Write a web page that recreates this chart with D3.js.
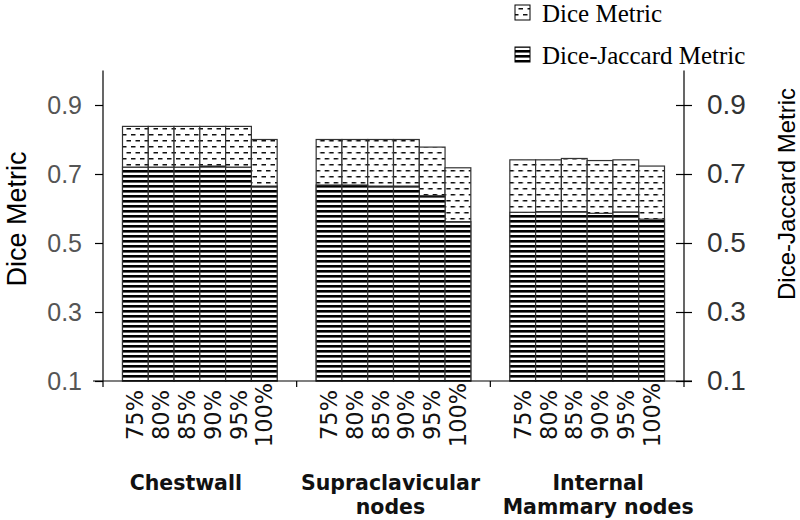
<!DOCTYPE html>
<html><head><meta charset="utf-8">
<script src="https://cdn.jsdelivr.net/npm/d3@7"></script>
<style>body{margin:0;background:#fff}svg{display:block}</style>
</head><body><svg id="c" width="800" height="520"></svg>
<script>
const groups = ["Chestwall", "Supraclavicular nodes", "Internal Mammary nodes"];
const groupLines = [["Chestwall"], ["Supraclavicular", "nodes"], ["Internal", "Mammary nodes"]];
const thresholds = ["75%", "80%", "85%", "90%", "95%", "100%"];
const diceValues = [
  [0.838, 0.838, 0.838, 0.838, 0.838, 0.80],
  [0.80, 0.80, 0.80, 0.80, 0.778, 0.718],
  [0.741, 0.741, 0.745, 0.739, 0.741, 0.723]
];
const jaccardValues = [
  [0.72, 0.72, 0.72, 0.723, 0.72, 0.665],
  [0.668, 0.668, 0.665, 0.665, 0.637, 0.562],
  [0.589, 0.591, 0.591, 0.586, 0.59, 0.569]
];
const yTicks = [0.1, 0.3, 0.5, 0.7, 0.9];
const seriesNames = ["Dice Metric", "Dice-Jaccard Metric"];

const svg = d3.select("#c");
const defs = svg.append("defs");
const pd = defs.append("pattern").attr("id", "dash").attr("patternUnits", "userSpaceOnUse")
  .attr("width", 9).attr("height", 12);
pd.append("rect").attr("width", 9).attr("height", 12).attr("fill", "#fff");
pd.append("rect").attr("x", 1).attr("y", 2).attr("width", 4.5).attr("height", 1.5).attr("fill", "#111");
pd.append("rect").attr("x", 5.5).attr("y", 8).attr("width", 3.5).attr("height", 1.5).attr("fill", "#111");
pd.append("rect").attr("x", 0).attr("y", 8).attr("width", 1).attr("height", 1.5).attr("fill", "#111");
const ps = defs.append("pattern").attr("id", "stripe").attr("patternUnits", "userSpaceOnUse")
  .attr("width", 4).attr("height", 5);
ps.append("rect").attr("width", 4).attr("height", 5).attr("fill", "#fff");
ps.append("rect").attr("y", 0).attr("width", 4).attr("height", 2.6).attr("fill", "#000");

const x0 = d3.scaleBand().domain(groups).range([103, 684]);
const x1 = d3.scaleBand().domain(thresholds).range([19.5, x0.bandwidth() - 19.5]);
const y = d3.scaleLinear().domain([0.1, 1.0]).range([381, 70.5]);
const labelShift = [-14, -3, 11];

groups.forEach((g, gi) => {
  const gg = svg.append("g").attr("transform", `translate(${x0(g)},0)`);
  gg.selectAll("rect.d").data(thresholds).join("rect").attr("class", "d")
    .attr("x", t => x1(t)).attr("width", x1.bandwidth())
    .attr("y", (t, i) => y(diceValues[gi][i]))
    .attr("height", (t, i) => y(0.1) - y(diceValues[gi][i]))
    .attr("fill", "url(#dash)").attr("stroke", "#333").attr("stroke-width", 1.2);
  gg.selectAll("rect.j").data(thresholds).join("rect").attr("class", "j")
    .attr("x", t => x1(t)).attr("width", x1.bandwidth())
    .attr("y", (t, i) => y(jaccardValues[gi][i]))
    .attr("height", (t, i) => y(0.1) - y(jaccardValues[gi][i]))
    .attr("fill", "url(#stripe)").attr("stroke", "#333").attr("stroke-width", 1.2);
  gg.selectAll("text.t").data(thresholds).join("text").attr("class", "t")
    .attr("transform", t => `translate(${x1(t) + x1.bandwidth() / 2 + 8},415) rotate(-90)`)
    .attr("text-anchor", "middle").attr("font-family", "DejaVu Sans").attr("font-size", 22.5)
    .attr("fill", "#111").text(t => t);
  const gl = gg.append("text").attr("text-anchor", "middle").attr("font-family", "DejaVu Sans")
    .attr("font-weight", "bold").attr("font-size", 20.5).attr("fill", "#111");
  groupLines[gi].forEach((ln, li) => {
    gl.append("tspan").attr("x", x0.bandwidth() / 2 + labelShift[gi]).attr("y", 490 + li * 24).text(ln);
  });
});

svg.append("line").attr("x1", 93).attr("x2", 692).attr("y1", y(0.1)).attr("y2", y(0.1))
  .attr("stroke", "#000").attr("stroke-width", 1.2);
const seps = groups.map(g => x0(g)).concat([x0.range()[1]]);
svg.selectAll("line.sep").data(seps).join("line").attr("class", "sep")
  .attr("x1", d => d).attr("x2", d => d).attr("y1", y(0.1)).attr("y2", y(0.1) + 6)
  .attr("stroke", "#000").attr("stroke-width", 1.2);

const la = svg.append("g").attr("transform", "translate(103,0)")
  .call(d3.axisLeft(y).tickValues(yTicks).tickSize(8).tickPadding(13).tickFormat(d3.format(".1f")));
la.select(".domain").attr("d", `M0,${y(1.0)}V${y(0.1)}`).attr("stroke", "#000").attr("stroke-width", 1.2);
la.selectAll(".tick line").attr("stroke", "#000").attr("stroke-width", 1.2);
la.selectAll(".tick text").attr("font-family", "Liberation Sans").attr("font-size", 25).attr("fill", "#555");

const ra = svg.append("g").attr("transform", "translate(684,0)")
  .call(d3.axisRight(y).tickValues(yTicks).tickSize(8).tickPadding(15).tickFormat(d3.format(".1f")));
ra.select(".domain").attr("d", `M0,${y(1.0)}V${y(0.1)}`).attr("stroke", "#000").attr("stroke-width", 1.2);
ra.selectAll(".tick line").attr("x1", -8).attr("stroke", "#000").attr("stroke-width", 1.2);
ra.selectAll(".tick text").attr("font-family", "Liberation Sans").attr("font-size", 28).attr("fill", "#333");

svg.append("text").attr("transform", "translate(26,219) rotate(-90)")
  .attr("text-anchor", "middle").attr("font-family", "Liberation Sans").attr("font-size", 27)
  .attr("fill", "#000").text("Dice Metric");
svg.append("text").attr("transform", "translate(795,194) rotate(-90)")
  .attr("text-anchor", "middle").attr("font-family", "Liberation Sans").attr("font-size", 24)
  .attr("fill", "#000").text("Dice-Jaccard Metric");

const leg = svg.append("g");
const fills = ["url(#dash)", "url(#stripe)"];
const legY = [5, 47];
seriesNames.forEach((s, i) => {
  leg.append("rect").attr("x", 515).attr("y", legY[i]).attr("width", 15).attr("height", 15)
    .attr("fill", fills[i]).attr("stroke", "#000").attr("stroke-width", 1);
  leg.append("text").attr("x", 542).attr("y", legY[i] + 17).attr("font-family", "Liberation Serif")
    .attr("font-size", 25).attr("fill", "#000").text(s);
});
</script></body></html>
